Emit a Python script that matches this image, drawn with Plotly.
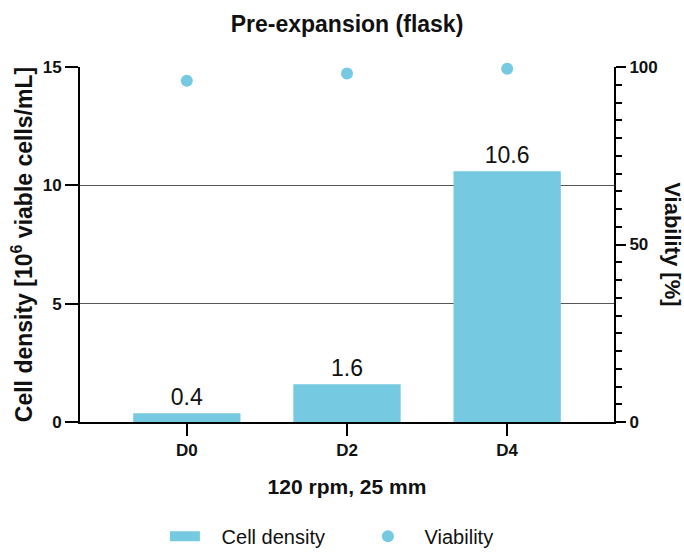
import plotly.graph_objects as go

categories = ["D0", "D2", "D4"]
cell_density = [0.37, 1.6, 10.6]
viability = [96.1, 98.2, 99.5]
left_ticks = [0, 5, 10, 15]
right_ticks = [0, 50, 100]
legend_names = ["Cell density", "Viability"]

color = "#75C9E1"
font_family = "Liberation Sans, Arial, Helvetica, sans-serif"
pad = "\u00a0\u00a0\u00a0"

fig = go.Figure()
fig.add_trace(go.Bar(
    x=categories, y=cell_density, name=legend_names[0], showlegend=False,
    marker=dict(color=color, line=dict(width=0)),
    width=0.67,
    text=[f"{v:.1f}" for v in cell_density], textposition="outside",
    textfont=dict(size=23, color="#111111"), cliponaxis=False,
))
# legend entry drawn as a wide rectangle, as in the reference
fig.add_trace(go.Scatter(
    x=[None], y=[None], name=pad + legend_names[0], mode="lines",
    line=dict(color=color, width=11),
))
fig.add_trace(go.Scatter(
    x=categories, y=viability, name=pad + legend_names[1], yaxis="y2",
    mode="markers", marker=dict(color=color, size=12),
    cliponaxis=False,
))

fig.update_layout(
    width=684, height=552,
    margin=dict(l=80, r=70, t=67, b=130, autoexpand=False),
    paper_bgcolor="white", plot_bgcolor="white",
    font=dict(family=font_family, color="#111111"),
    title=dict(text="<b>Pre-expansion (flask)</b>", x=0.5, xref="paper",
               y=0.957, yanchor="middle", font=dict(size=23, color="#111111")),
    showlegend=True,
    legend=dict(orientation="h", x=0.159, xanchor="left", y=-0.322, yanchor="middle",
                font=dict(size=20, color="#111111"), itemwidth=30,
                traceorder="normal", entrywidth=158, entrywidthmode="pixels"),
    xaxis=dict(
        range=[-0.667, 2.667], showline=True, linecolor="black", linewidth=2,
        ticks="outside", ticklen=12, tickwidth=2, tickcolor="black",
        tickfont=dict(size=17, weight="bold"),
        title=dict(text="<b>120 rpm, 25 mm</b>", font=dict(size=21), standoff=20),
        showgrid=False, zeroline=False, automargin=False,
    ),
    yaxis=dict(
        range=[0, 15], tickvals=left_ticks, showline=True, linecolor="black", linewidth=2,
        ticks="outside", ticklen=13, tickwidth=2, tickcolor="black",
        tickfont=dict(size=17, weight="bold"),
        showgrid=True, gridcolor="#555555", gridwidth=1, zeroline=False,
        title=dict(text="<b>Cell density [10<sup>6</sup> viable cells/mL]</b>",
                   font=dict(size=23), standoff=4),
        automargin=False,
    ),
    yaxis2=dict(
        range=[0, 100], tickvals=right_ticks, overlaying="y", side="right",
        showline=True, linecolor="black", linewidth=2,
        ticks="outside", ticklen=10, tickwidth=2, tickcolor="black",
        tickfont=dict(size=17, weight="bold"),
        minor=dict(dtick=5, ticks="outside", ticklen=6, tickwidth=1.5, tickcolor="black"),
        showgrid=False, zeroline=False, automargin=False,
    ),
    annotations=[dict(
        text="<b>Viability [%]</b>", textangle=90, xref="paper", yref="paper",
        x=1.109, y=0.5, xanchor="center", yanchor="middle", showarrow=False,
        font=dict(size=22, color="#111111"),
    )],
)

fig.write_html("out.html")
